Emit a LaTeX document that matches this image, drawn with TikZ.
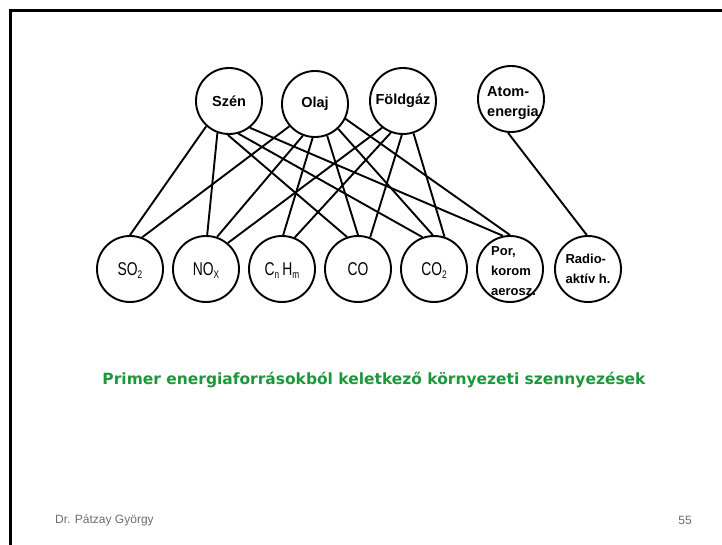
\documentclass[tikz,border=0pt]{standalone}
\usepackage{fontspec}
\usepackage{graphicx}
\setmainfont{Liberation Sans}
\newfontfamily\narrowfont[FakeStretch=0.75]{Liberation Sans}
\newfontfamily\capfont{DejaVu Sans}
\definecolor{capgreen}{RGB}{30,150,60}
\definecolor{footgray}{RGB}{110,110,110}
\newcommand\lowidx[1]{\raisebox{-3.5pt}{\fontsize{11}{11}\selectfont #1}}
\begin{document}
\begin{tikzpicture}[x=1pt,y=-1pt,
  circ/.style={circle,draw,line width=1.9pt,minimum size=66pt,inner sep=0pt},
  toplab/.style={font=\fontsize{14.5}{20}\selectfont\bfseries},
  smalllab/.style={font=\fontsize{13}{20}\selectfont\bfseries},
  chem/.style={font=\fontsize{18.5}{20}\selectfont\narrowfont,text height=13pt,text depth=1pt},
  link/.style={line width=1.9pt}]
\useasboundingbox (0,0) rectangle (722,545);
\fill[white] (0,0) rectangle (722,545);
\draw[line width=3pt] (10,546) -- (10,11) -- (723,11);
% top nodes
\node[circ,toplab] (szen) at (229,101) {Szén};
\node[circ,toplab] (olaj) at (315,104) {Olaj};
\node[circ,toplab] (foldgaz) at (403,101) {Földgáz};
\node[circ] (atom) at (511,99) {};
\node[toplab,align=left,inner sep=0pt] (atomtext) at (513,103) {Atom-\\energia};
% bottom nodes
\node[circ,chem] (so2) at (130,269) {SO\lowidx{2}};
\node[circ,chem] (nox) at (206,269) {NO\lowidx{X}};
\node[circ,chem] (cnhm) at (282,269) {C\lowidx{n}\,H\lowidx{m}};
\node[circ,chem] (co) at (358,269) {CO};
\node[circ,chem] (co2) at (434,269) {CO\lowidx{2}};
\node[circ] (por) at (510,269) {};
\node[smalllab,align=left,anchor=west,inner sep=0pt] (portext) at (491,271) {Por,\\korom\\aerosz.};
\node[circ,smalllab,align=left] (radio) at (588,269) {Radio-\\aktív h.};
% connectors
\draw[link] (szen.228) -- (so2.90);
\draw[link] (szen.250) -- (nox.88);
\draw[link] (szen.268) -- (co.109);
\draw[link] (szen.286) -- (co2.110);
\draw[link] (szen.308) -- (por.102);
\draw[link] (olaj.221) -- (so2.69);
\draw[link] (olaj.249) -- (nox.71);
\draw[link] (olaj.266) -- (cnhm.88);
\draw[link] (olaj.291) -- (co.90);
\draw[link] (olaj.313) -- (co2.92);
\draw[link] (olaj.334) -- (por.90);
\draw[link] (foldgaz.232) -- (nox.50);
\draw[link] (foldgaz.249) -- (cnhm.68);
\draw[link] (foldgaz.268) -- (co.69);
\draw[link] (foldgaz.288) -- (co2.72);
\draw[link] (atom.265) -- (radio.92);
% caption
\node[text=capgreen,inner sep=0pt] (caption) at (374,380)
  {\resizebox{543pt}{!}{\capfont\bfseries\fontsize{14}{16}\selectfont Primer energiaforrásokból keletkező környezeti szennyezések}};
% footer
\node[font=\fontsize{12}{13}\selectfont,text=footgray,anchor=west,inner sep=0pt] (author) at (55,520) {Dr. Pátzay György};
\node[font=\fontsize{12}{13}\selectfont,text=footgray,anchor=east,inner sep=0pt] (page) at (692,520) {55};
\end{tikzpicture}
\end{document}
